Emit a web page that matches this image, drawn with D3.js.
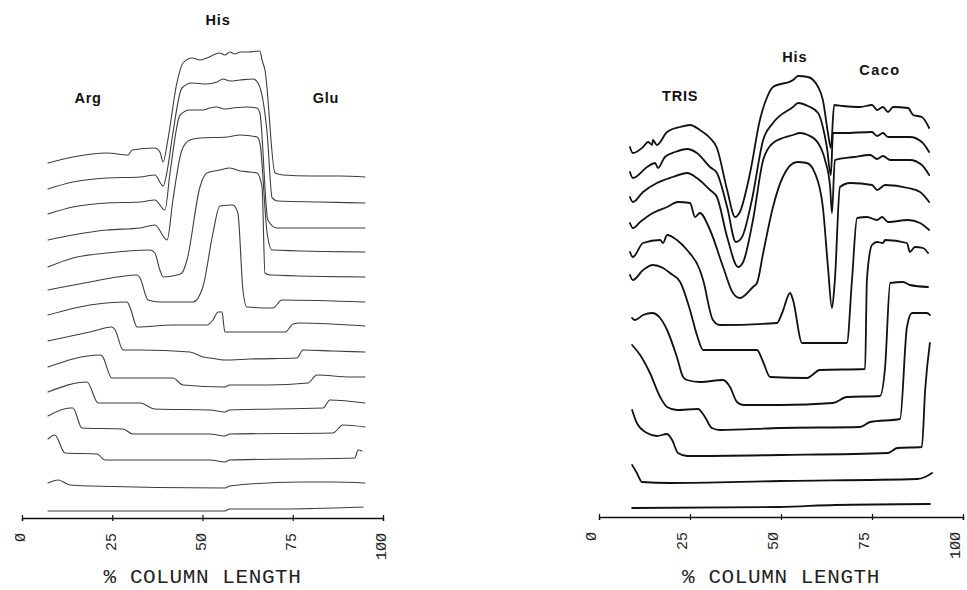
<!DOCTYPE html>
<html><head><meta charset="utf-8">
<script src="https://cdn.jsdelivr.net/npm/d3@7"></script>
<style>body{margin:0;background:#fff}svg{display:block}</style>
</head><body>
<svg id="chart" width="967" height="590"></svg>
<script>
// ---- data (x = % column length, v = detector signal, stacked) ----
const tickValues = [0, 25, 50, 75, 100];
const tickLabels = ["Ø", "25", "5Ø", "75", "1ØØ"];
const axisTitle = "% COLUMN LENGTH";

const leftLabels = [
  {text: "Arg", x: 18.3, v: 415},
  {text: "His", x: 54.3, v: 493},
  {text: "Glu", x: 84.2, v: 415}
];
const rightLabels = [
  {text: "TRIS", x: 22.3, v: 416},
  {text: "His", x: 53.8, v: 455},
  {text: "Caco", x: 77.2, v: 442}
];

const leftTraces = [
  [[7.2,355],[14.1,361],[23.5,365],[29.4,363],[30.5,368],[36.8,370],[38.2,366],[39.1,356],[40.4,378],[42.9,435],[44.6,455],[47.1,460],[49.3,458],[51.2,460],[54.8,465],[56.2,463],[57.6,466],[59.0,464],[60.4,466],[62.6,466],[65.9,467],[66.5,458],[67.3,448],[70.1,345],[72.3,343],[80,342],[88,342],[95,341]],
  [[7.2,329],[14.1,336],[23.5,340],[32.7,341],[36.8,343],[39.1,332],[40.4,351],[41.8,385],[44.3,430],[47.1,435],[51.0,434],[54.0,436],[55.7,439],[57.6,437],[60.4,438],[64.0,439],[65.4,435],[67.9,385],[69.3,320],[70.9,317],[82.5,316],[95,315]],
  [[7.2,304],[14.1,311],[23.5,315],[32.7,316],[36.8,318],[39.6,308],[41.0,345],[43.8,403],[46.5,408],[50.1,408],[52.0,410],[54.0,411],[56.0,409],[58.4,410],[62.3,411],[65.1,410],[65.9,405],[68.1,298],[70.6,290],[95,290]],
  [[7.2,278],[14.1,283],[23.5,288],[32.7,290],[36.8,293],[40.2,278],[41.8,318],[44.3,368],[46.5,378],[49.3,380],[56.8,381],[60.4,383],[65.1,381],[65.9,375],[67.9,285],[69.3,268],[95,266]],
  [[7.2,251],[14.1,260],[23.5,265],[35.5,268],[36.8,265],[38.2,248],[39.1,241],[42.9,243],[44.3,245],[45.7,258],[49.3,331],[51.2,345],[54.8,348],[57.6,350],[60.4,347],[63.2,346],[65.1,345],[66.5,331],[67.3,245],[68.7,243],[95,241]],
  [[7.2,228],[18.8,236],[31.9,243],[32.7,240],[34.9,218],[38.2,216],[47.4,216],[50.1,231],[52.9,285],[54.8,312],[58.4,313],[59.8,305],[61.2,228],[62.3,211],[69.5,210],[72.0,218],[95,216]],
  [[7.2,203],[18.8,213],[29.1,216],[29.9,211],[31.9,191],[41.8,193],[51.2,193],[52.9,198],[54.3,206],[55.4,206],[56.2,186],[67.9,186],[72.9,186],[75.1,194],[77.0,195],[95,192]],
  [[7.2,177],[18.8,186],[24.9,191],[25.8,188],[28.0,168],[32.7,168],[46.5,166],[50.1,161],[52.1,160],[56.2,158],[63.2,159],[76.2,160],[77.8,168],[86.1,167],[95,166]],
  [[7.2,151],[21.6,163],[22.2,162],[24.9,140],[41.8,140],[44.6,133],[56.2,131],[57.5,133],[67.9,133],[79.2,135],[81.7,143],[90.9,141],[95,141]],
  [[7.2,126],[18.0,136],[21.1,115],[32.7,115],[36.8,109],[52.1,108],[56.2,106],[57.5,108],[83.4,110],[85.3,118],[95,115]],
  [[7.2,102],[13.3,110],[14.1,110],[16.6,90],[28.0,89],[30.7,84],[52.1,84],[56.2,82],[57.5,84],[86.1,85],[88.9,93],[95,91]],
  [[7.2,79],[9.1,83],[11.9,65],[20.8,64],[23.0,58],[52.1,58],[56.2,56],[57.5,58],[92.2,60],[93.1,68],[94.2,67]],
  [[7.2,35],[10.0,38],[13.3,33],[18.8,32],[56.2,30],[57.5,32],[77.0,36],[86.1,36],[95,35]],
  [[7.2,7],[56.2,7],[57.5,9],[70,9],[94.5,11]]
];

const rightTraces = [
  [[8.5,370],[9.3,364],[12.1,370],[13.5,375],[14.6,372],[14.8,377],[15.9,372],[18.7,385],[22.3,390],[25.0,392],[27.7,387],[30.5,379],[32.4,369],[35.2,327],[37.4,300],[38.7,305],[41.5,344],[44.2,397],[46.2,420],[47.8,430],[53.3,437],[54.7,441],[57.4,440],[60.2,430],[61.5,417],[62.9,384],[63.7,369],[64.6,412],[67.0,411],[71.7,410],[75.0,412],[76.4,407],[78.0,410],[79.4,405],[80.8,410],[84.9,409],[86.3,402],[88.7,400],[90.7,389]],
  [[8.5,345],[9.3,339],[13.2,350],[15.4,354],[16.2,349],[18.1,360],[20.9,365],[24.2,368],[26.9,364],[30.5,350],[32.4,344],[35.2,310],[37.6,275],[39.3,280],[42.0,317],[45.1,377],[47.8,394],[53.3,410],[54.7,414],[57.4,411],[60.2,404],[61.5,390],[62.6,370],[63.7,342],[64.3,384],[67.0,384],[75.0,385],[76.4,381],[78.0,384],[79.4,380],[85.4,380],[88.7,375],[90.7,365]],
  [[8.5,320],[9.3,315],[12.1,325],[15.9,334],[20.3,340],[24.2,344],[26.9,339],[30.5,327],[32.4,320],[35.2,280],[38.2,250],[39.6,255],[42.3,297],[45.1,357],[47.8,374],[53.3,382],[55.2,384],[57.4,382],[60.2,374],[62.1,357],[63.5,330],[64.0,304],[64.8,357],[70.0,360],[74.5,362],[76.4,358],[78.0,361],[80.0,357],[85.4,357],[88.7,352],[90.7,342]],
  [[8.5,294],[9.3,289],[11.3,295],[14.8,304],[18.7,310],[21.7,315],[25.0,314],[26.4,300],[27.7,304],[30.5,287],[34.1,250],[36.8,224],[38.7,219],[42.3,230],[43.4,234],[45.1,264],[47.8,310],[50.5,340],[54.4,355],[57.1,354],[59.3,344],[61.5,310],[62.9,250],[64.0,209],[64.8,237],[66.2,330],[69.0,334],[75.0,332],[76.4,327],[78.6,332],[84.9,329],[88.2,325],[90.7,315]],
  [[8.5,265],[9.3,260],[12.1,274],[16.8,277],[17.6,274],[18.7,282],[21.4,277],[24.2,267],[27.7,247],[28.6,237],[31.3,197],[33.2,192],[48.9,194],[50.3,204],[52.5,224],[53.3,217],[55.8,174],[68.1,174],[69.5,237],[70.9,299],[73.6,300],[76.4,297],[77.8,300],[79.4,295],[84.9,297],[88.2,294],[90.7,287]],
  [[8.5,242],[9.3,237],[12.1,247],[14.8,252],[17.6,249],[19.5,244],[22.3,235],[25.0,207],[26.9,182],[28.6,167],[43.4,167],[45.1,155],[47.0,140],[57.1,139],[60.7,147],[73.1,148],[73.6,237],[75.0,272],[76.4,275],[78.0,274],[78.6,277],[84.6,274],[85.4,265],[86.8,270],[89.0,269],[90.4,264]],
  [[9.1,199],[9.9,197],[12.1,202],[14.6,204],[16.8,199],[18.7,187],[21.4,160],[23.1,140],[24.2,137],[27.7,135],[34.1,137],[36.0,130],[37.9,115],[39.6,112],[49.7,112],[64.3,114],[68.1,120],[77.2,121],[78.6,150],[80.0,234],[83.5,235],[85.4,232],[90.4,230]],
  [[9.1,172],[11.3,162],[14.0,144],[16.8,120],[18.7,110],[21.4,107],[27.2,108],[29.1,100],[31.0,89],[33.2,87],[49.7,89],[71.7,90],[74.5,95],[82.7,98],[84.6,190],[86.0,204],[90.1,204],[90.9,202]],
  [[9.1,107],[10.4,94],[13.2,84],[15.9,81],[18.7,83],[20.1,77],[21.7,64],[24.2,61],[49.7,62],[79.4,64],[81.9,69],[88.7,70],[89.6,127],[90.9,174]],
  [[9.1,52],[10.4,44],[11.8,35],[19.5,34],[49.7,36],[87.4,38],[89.6,40],[91.5,44]],
  [[9.1,9],[49.7,10],[64.8,12],[90.9,13]]
];

// ---- drawing ----
const svg = d3.select("#chart");

function drawPanel(cfg) {
  const x = d3.scaleLinear().domain([0, 100]).range([cfg.x0, cfg.x1]);
  const y = d3.scaleLinear().domain([0, 500]).range([cfg.axisY, cfg.axisY - 500]);
  const g = svg.append("g");

  const line = d3.line().curve(d3.curveMonotoneX).x(d => x(d[0])).y(d => y(d[1]));
  g.selectAll("path.trace").data(cfg.traces).join("path")
    .attr("class", "trace")
    .attr("d", line)
    .attr("fill", "none")
    .attr("stroke", cfg.color)
    .attr("stroke-width", cfg.width)
    .attr("stroke-linejoin", "round")
    .attr("stroke-linecap", "round");

  const axis = d3.axisBottom(x)
    .tickValues(tickValues)
    .tickFormat((d, i) => tickLabels[i])
    .tickSizeOuter(0)
    .tickSize(3);
  const ag = g.append("g").attr("transform", `translate(0,${cfg.axisY})`).call(axis);
  ag.select(".domain").attr("stroke", "#111").attr("stroke-width", 1.4);
  ag.selectAll(".tick line").attr("y1", -3).attr("y2", 3).attr("stroke", "#111").attr("stroke-width", 1.2);
  ag.selectAll(".tick text")
    .attr("transform", "rotate(-90)")
    .attr("x", -15)
    .attr("y", cfg.labelShift)
    .attr("dy", "0.33em")
    .attr("text-anchor", "end")
    .attr("fill", "#222")
    .style("font-family", "'Liberation Mono', 'DejaVu Sans Mono', monospace")
    .style("font-size", "15px");

  g.append("text")
    .attr("x", (cfg.x0 + cfg.x1) / 2)
    .attr("y", 583)
    .attr("text-anchor", "middle")
    .attr("fill", "#222")
    .style("font-family", "'Liberation Mono', 'DejaVu Sans Mono', monospace")
    .style("font-size", "21px")
    .style("letter-spacing", "0.6px")
    .text(axisTitle);

  g.selectAll("text.peak").data(cfg.labels).join("text")
    .attr("class", "peak")
    .attr("x", d => x(d.x))
    .attr("y", d => y(d.v))
    .attr("text-anchor", "middle")
    .attr("fill", "#111")
    .style("font-family", "'Liberation Sans', Arial, sans-serif")
    .style("font-weight", "bold")
    .style("font-size", "14.5px")
    .style("letter-spacing", d => d.text === "Caco" ? "1.5px" : "0.8px")
    .text(d => d.text);
}

drawPanel({x0: 22, x1: 383, axisY: 518, traces: leftTraces, labels: leftLabels,
           color: "#3c3c3c", width: 1.1, labelShift: -2});
drawPanel({x0: 599, x1: 963, axisY: 517, traces: rightTraces, labels: rightLabels,
           color: "#111", width: 1.8, labelShift: -8});
</script>
</body></html>
